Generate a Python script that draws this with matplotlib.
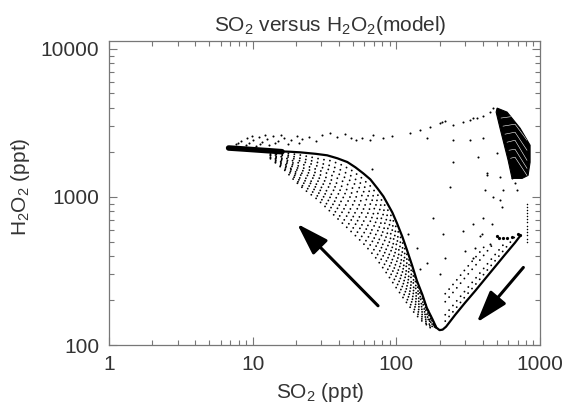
import matplotlib
matplotlib.use("Agg")
import matplotlib.pyplot as plt
from matplotlib.ticker import LogLocator, NullFormatter
from matplotlib.patches import Polygon

# ===== fuentes =====
plt.rcParams["font.family"] = ["Liberation Sans", "DejaVu Sans"]
plt.rcParams["mathtext.fontset"] = "custom"
plt.rcParams["mathtext.rm"] = "Liberation Sans"
plt.rcParams["mathtext.it"] = "Liberation Sans:italic"
plt.rcParams["mathtext.bf"] = "Liberation Sans:bold"

TXT = "#333333"
AX = "#777777"

# ===== datos (SO2 ppt, H2O2 ppt) =====
# envolvente densa (rama izquierda hasta el minimo)
env_x = [6.8, 8.25, 9.7, 12.3, 14.9, 18.4, 21.5, 27.4, 33, 38.9, 45.6, 51.9,
         59, 65.9, 74, 81.3, 86.5, 93.8, 101, 110, 119, 129, 139, 152, 163,
         178, 190, 200, 210]
env_y = [2120, 2110, 2090, 2066, 2035, 2018, 2000, 1955, 1910, 1823, 1720,
         1585, 1440, 1314, 1140, 1008, 905, 785, 665, 540, 434, 343, 272, 218,
         178, 150, 131, 126, 127]

# rama derecha densa
right_x = [222, 257, 301, 354, 415, 487, 571, 670, 727]
right_y = [133, 160, 193, 232, 280, 338, 408, 491, 545]

# gancho al final de la rama derecha
hook_x = [727, 700, 639, 590, 553, 518, 503]
hook_y = [555, 560, 540, 526, 524, 526, 548]

# cola gruesa a la izquierda
blob_x = [6.8, 8.5, 10.5, 13, 16]
blob_y = [2140, 2110, 2080, 2050, 2020]

# abanico: filas de puntos entre la envolvente y el borde inferior
fan_xa = [13.3, 15.6, 18.4, 21.5, 25.3, 29.7, 34.8, 40.8, 48.0, 56.2, 65.9,
          77.4, 90.8, 106.6, 125, 146.8, 172]
fan_xb = [14.4, 16.9, 19.8, 23.3, 27.4, 32.2, 37.7, 44.3, 51.9, 60.9, 71.4,
          83.8, 98.3, 115.3, 135.3, 158.6]
fan_rows_a = [
    [2030, 1996, 1960, 1917, 1860, 1800, 1756, 1660, 1529, 1367, 1185, 981, 766, 540, 355, 230, 159],
    [2007, 1955, 1896, 1822, 1761, 1686, 1626, 1524, 1394, 1240, 1074, 889, 694, 495, 332, 221, 156],
    [1983, 1918, 1840, 1747, 1675, 1590, 1518, 1409, 1284, 1138, 985, 813, 636, 458, 313, 212, 153],
    [1938, 1841, 1730, 1592, 1510, 1405, 1312, 1196, 1078, 947, 817, 674, 528, 389, 275, 196, 147],
    [1917, 1809, 1680, 1524, 1437, 1324, 1225, 1107, 992, 869, 749, 613, 484, 360, 259, 188, 144],
    [1900, 1770, 1630, 1458, 1369, 1248, 1148, 1024, 913, 797, 686, 564, 443, 333, 244, 181, 142],
    [1855, 1706, 1535, 1330, 1233, 1103, 988, 869, 767, 664, 570, 467, 368, 282, 215, 167, 136],
    [1834, 1675, 1488, 1273, 1171, 1040, 922, 804, 706, 609, 522, 428, 337, 261, 202, 160, 134],
    [1810, 1637, 1440, 1212, 1110, 974, 854, 737, 644, 553, 473, 387, 306, 240, 189, 154, 131],
]
fan_rows_b = [
    [1920, 1833, 1730, 1633, 1542, 1458, 1360, 1242, 1110, 976, 819, 658, 497, 353, 245, 175],
    [1806, 1656, 1481, 1342, 1230, 1112, 996, 884, 777, 671, 564, 453, 350, 264, 199, 155],
    [1700, 1500, 1273, 1107, 985, 855, 737, 635, 548, 469, 392, 315, 249, 199, 162, 138],
]

# banda de puntos sobre la rama derecha
band_x = [219, 257, 301, 354, 415, 487, 571, 670]
band_rows = [
    [145, 175, 212, 255, 308, 371, 448, 540],
    [160, 193, 232, 280, 338, 408, 491],
    [196, 236, 285, 343, 414, 499],
    [222, 267, 323, 389, 469],
]

# puntos sueltos arriba (cola izquierda y arco superior)
top_x = [7.62, 8.25, 8.94, 9.1, 10.0, 10.5, 11.0, 11.7, 12.5, 12.9, 13.8, 15.1,
         16.4, 18.4, 20.2, 22.2, 24.5, 27.4, 30.6, 34.8, 38.4, 43.6, 48.0, 52.7,
         58.1, 65.9, 69.3, 81.3, 94.0, 125, 147, 164, 172, 202, 209, 219, 249,
         249, 292, 326, 326, 343, 365, 402, 402, 450, 472,
         7.9, 9.5, 11.3, 14.4, 17.5, 21.0, 9.9, 12.1, 15.8]
top_y = [2269, 2380, 2235, 2494, 2417, 2200, 2534, 2342, 2456, 2235, 2573, 2380,
         2494, 2417, 2573, 2456, 2534, 2380, 2613, 2695, 2534, 2654, 2494, 2417,
         2494, 2417, 2613, 2494, 2573, 2695, 2825, 2494, 2960, 3150, 3200, 3250,
         3050, 2417, 3200, 3300, 2417, 3410, 3410, 3515, 2494, 3740, 3981,
         2330, 2300, 2280, 2300, 2260, 2300, 2590, 2610, 2620]

# puntos sueltos en el centro
mid_x = [68.1, 237, 249, 371, 503, 429, 527, 639, 670, 692, 553, 472, 527, 402,
         343, 383, 292, 354, 181, 212, 219, 396, 464, 545, 301, 450, 343, 164,
         147, 121, 140, 202, 415, 429]
mid_y = [1536, 1160, 1714, 1855, 1972, 1398, 1356, 1334, 1235, 1107, 1107, 992,
         947, 726, 661, 548, 593, 455, 726, 565, 389, 565, 661, 849, 434, 484,
         389, 360, 327, 565, 455, 303, 1107, 1445]

# columna vertical de puntos a la derecha
col_y = [900, 860, 820, 780, 745, 710, 675, 640, 610, 580, 550, 520, 495]
col_xval = 812

# cumulo denso arriba a la derecha
clu_x = [495, 503, 590, 727, 853, 853, 826, 750, 639, 600, 527]
clu_y = [3740, 3980, 3740, 2912, 2235, 1714, 1398, 1334, 1334, 1767, 2912]
# franjas claras dentro del cumulo (izq, medio, der)
stripe_x = [[536, 670, 812], [553, 670, 812], [571, 670, 812],
            [590, 670, 812], [609, 670, 812], [624, 670, 812]]
stripe_y = [[3410, 3515, 2825], [3006, 3100, 2415], [2654, 2737, 2067],
            [2342, 2415, 1767], [2067, 2100, 1560], [1824, 1855, 1398]]

# flechas (cola, punta)
arrow1 = ((74.6, 184), (20.4, 658))
arrow2 = ((766, 334), (363, 142))

# ===== figura =====
fig = plt.figure(figsize=(5.75, 4.15), dpi=100)
ax = fig.add_axes([109 / 575, 1 - 345 / 415, 431 / 575, 304 / 415])
ax.set_xscale("log")
ax.set_yscale("log")
ax.set_xlim(1, 1000)
ax.set_ylim(100, 11300)

dot = dict(s=2.2, c="black", linewidths=0, zorder=3)
dotted = dict(color="black", lw=1.35, ls=(0, (0.01, 3.2)),
              dash_capstyle="round", zorder=3)

# filas del abanico y de la banda como lineas de puntos
for row in fan_rows_a:
    ax.plot(fan_xa + [env_x[-3]], row + [env_y[-3]], **dotted)
for row in fan_rows_b:
    ax.plot(fan_xb + [env_x[-3]], row + [env_y[-3]], **dotted)
for row in band_rows:
    ax.plot(band_x[:len(row)], row, **dotted)

ax.plot(env_x + right_x, env_y + right_y, color="black", lw=1.6, zorder=3)
ax.plot(hook_x, hook_y, color="black", lw=0, marker="o", ms=1.3, zorder=3)
ax.plot(blob_x, blob_y, color="black", lw=4, solid_capstyle="round", zorder=3)

ax.scatter(top_x, top_y, **dot)
ax.scatter(mid_x, mid_y, **dot)
ax.scatter([col_xval] * len(col_y), col_y, s=1.2, c="black", linewidths=0, zorder=3)

poly = Polygon(list(zip(clu_x, clu_y)), closed=True, facecolor="black",
               edgecolor="black", lw=0.8, zorder=3)
ax.add_patch(poly)
for sx, sy in zip(stripe_x, stripe_y):
    ln, = ax.plot(sx, sy, color="white", lw=0.4, zorder=4)
    ln.set_clip_path(poly)

for tail, tip in (arrow1, arrow2):
    ax.annotate("", xy=tip, xytext=tail,
                arrowprops=dict(arrowstyle="-|>,head_length=1.4,head_width=0.45",
                                mutation_scale=14, lw=2.2, color="black",
                                shrinkA=0, shrinkB=0), zorder=5)

# ===== ejes =====
ax.set_xticks([1, 10, 100, 1000])
ax.set_xticklabels(["1", "10", "100", "1000"])
ax.set_yticks([100, 1000, 10000])
ax.set_yticklabels(["100", "1000", "10000"])
ax.xaxis.set_minor_locator(LogLocator(base=10, subs=range(2, 10)))
ax.yaxis.set_minor_locator(LogLocator(base=10, subs=range(2, 10)))
ax.xaxis.set_minor_formatter(NullFormatter())
ax.yaxis.set_minor_formatter(NullFormatter())
ax.tick_params(which="both", direction="in", top=True, right=True,
               color=AX, width=0.8, labelcolor=TXT, labelsize=15)
ax.tick_params(which="major", length=6, pad=7)
ax.tick_params(which="minor", length=3.5)
for sp in ax.spines.values():
    sp.set_color(AX)
    sp.set_linewidth(0.9)

ax.set_title(r"SO$_2$ versus H$_2$O$_2$(model)", fontsize=15, color=TXT,
             x=0.513, pad=7)
ax.set_xlabel(r"SO$_2$ (ppt)", fontsize=15, color=TXT)
ax.set_ylabel(r"H$_2$O$_2$ (ppt)", fontsize=15, color=TXT)
ax.xaxis.set_label_coords(0.49, -0.12)
ax.yaxis.set_label_coords(-0.179, 0.52)

fig.savefig("out.png", dpi=100)
